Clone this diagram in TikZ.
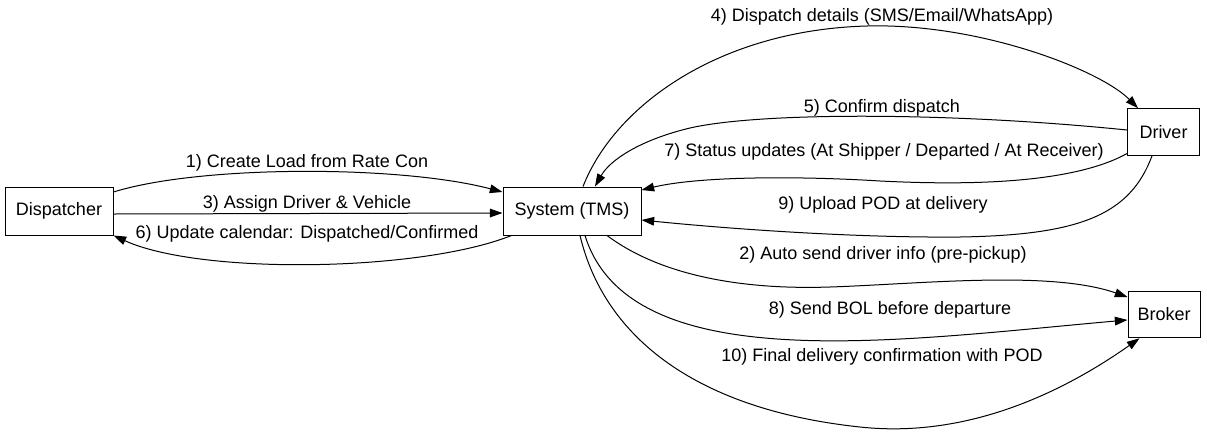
\documentclass[tikz,border=0pt]{standalone}
\usepackage{fontspec}
\setmainfont{Liberation Sans}
\usetikzlibrary{positioning,arrows.meta}
\tikzset{
  actor/.style={draw, rectangle, line width=0.75pt, minimum height=36pt, inner sep=0pt},
  msg/.style={line width=0.75pt, -{Triangle[length=9.5pt,width=6.5pt]}},
  lbl/.style={inner sep=1pt}
}

\begin{document}
\begin{tikzpicture}[x=0.75pt, y=-0.75pt, font=\fontsize{13.5}{16}\selectfont]
\useasboundingbox (0,0) rectangle (1207,433);
% the four parties
\node[actor, minimum width=81pt] (disp) at (59,211) {Dispatcher};
\node[actor, minimum width=103.5pt] (sys) at (572,211) {System (TMS)};
\node[actor, minimum width=54pt, minimum height=35pt] (drv) at (1163.5,132) {Driver};
\node[actor, minimum width=54pt, minimum height=35pt] (brk) at (1164,314.5) {Broker};
% dispatcher <-> system
\draw[msg] ([yshift=14.25pt]disp.east) .. controls (200,165) and (400,165) .. ([yshift=14.25pt]sys.west);
\draw[msg] ([yshift=-2.25pt]disp.east) -- ([yshift=-1.5pt]sys.west);
\draw[msg] ([xshift=6.75pt]sys.south west) .. controls (420,272) and (200,275) .. (disp.south east);
% system <-> driver
\draw[msg] ([xshift=8.25pt]sys.north) .. controls (615,105) and (720,30) .. (867,26)
  .. controls (980,23) and (1100,70) .. ([xshift=8.25pt]drv.north west);
\draw[msg] ([yshift=1.5pt]drv.west) .. controls (950,112) and (760,112) .. (690,128)
  .. controls (640,140) and (610,160) .. ([xshift=17.25pt]sys.north);
\draw[msg] ([yshift=1.7pt]drv.south west) .. controls (1070,185) and (960,185) .. (880,181)
  .. controls (800,176) and (700,176) .. ([yshift=15.75pt]sys.east);
\draw[msg] ([xshift=-8.6pt]drv.south) .. controls (1130,215) and (1080,235) .. (960,237)
  .. controls (850,238) and (720,228) .. ([yshift=-6.75pt]sys.east);
% system -> broker
\draw[msg] ([xshift=26.25pt]sys.south) .. controls (660,275) and (740,290) .. (830,287)
  .. controls (920,284) and (1050,270) .. ([yshift=13.1pt]brk.west);
\draw[msg] ([xshift=9.75pt]sys.south) .. controls (630,380) and (900,340) .. ([yshift=-4.1pt]brk.west);
\draw[msg] ([xshift=6pt]sys.south) .. controls (605,340) and (700,410) .. (860,427)
  .. controls (980,440) and (1080,380) .. ([xshift=9pt]brk.south west);
% labels
\node[lbl] (l1) at (307,163) {1) Create Load from Rate Con};
\node[lbl] (l2) at (883,255) {2) Auto send driver info (pre-pickup)};
\node[lbl] (l3) at (307,204) {3) Assign Driver \& Vehicle};
\node[lbl] (l4) at (882,17) {4) Dispatch details (SMS/Email/WhatsApp)};
\node[lbl] (l5) at (882,108) {5) Confirm dispatch};
\node[lbl] (l6) at (307,234) {6) Update calendar: Dispatched/Confirmed};
\node[lbl] (l7) at (884,152) {7) Status updates (At Shipper / Departed / At Receiver)};
\node[lbl] (l8) at (890,310) {8) Send BOL before departure};
\node[lbl] (l9) at (883,205) {9) Upload POD at delivery};
\node[lbl] (l10) at (882,357) {10) Final delivery confirmation with POD};
\end{tikzpicture}
\end{document}
